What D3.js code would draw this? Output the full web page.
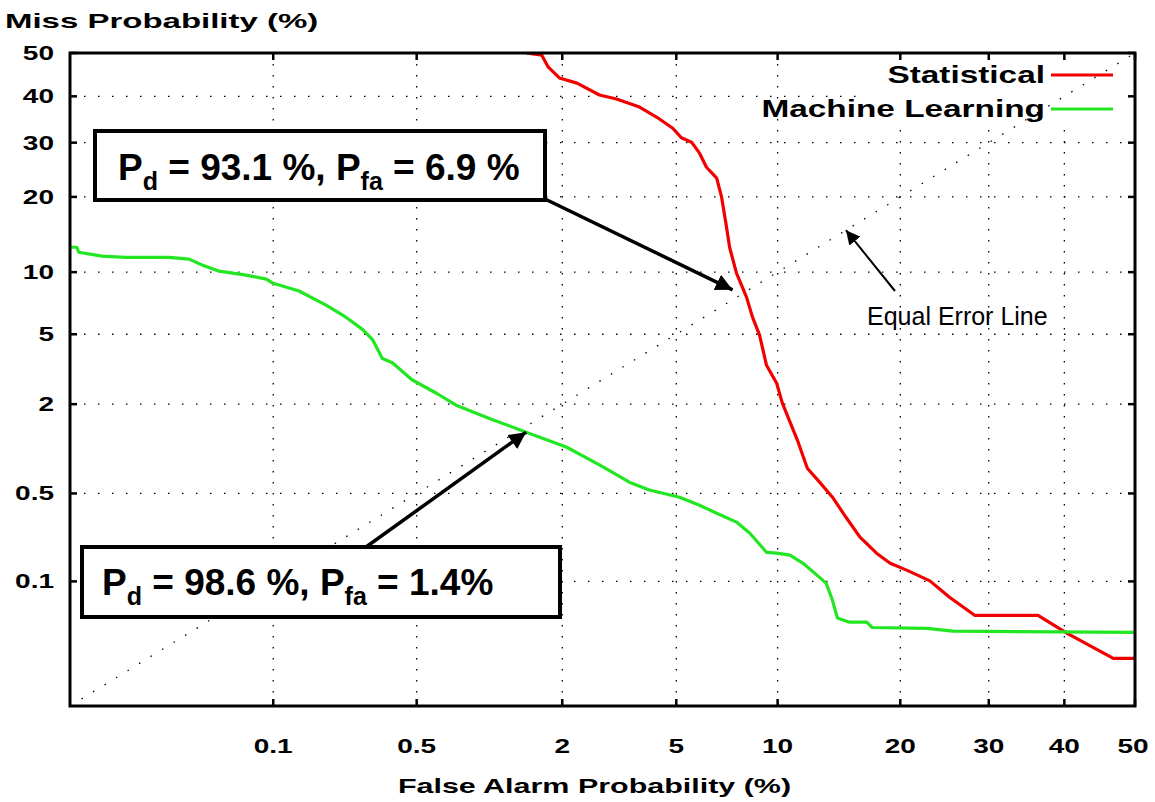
<!DOCTYPE html>
<html>
<head>
<meta charset="utf-8">
<script src="https://cdn.jsdelivr.net/npm/d3@7"></script>
<style>
  body { margin: 0; background: #fff; }
  text { font-family: "Liberation Sans", Arial, Helvetica, sans-serif; }
</style>
</head>
<body>
<svg id="chart" width="1155" height="802"></svg>
<script>
// axis ticks (percent) and limits of the DET plot
const xTicks = [0.1, 0.5, 2, 5, 10, 20, 30, 40, 50];
const yTicks = [0.1, 0.5, 2, 5, 10, 20, 30, 40, 50];
const axisMin = 0.0067;
const axisMax = 50;

// Statistical detector: false alarm % / miss %
const statPfa = [1.45, 1.67, 1.77, 1.95, 2.27, 2.74, 3.15, 3.78, 4.31, 4.87, 5.19, 5.59, 5.92, 6.22, 6.68, 6.91, 7.15, 7.3, 7.65, 8.18, 8.51, 8.91, 9.32, 9.94, 10.3, 11.3, 12.0, 12.9, 13.9, 15.0, 16.2, 17.7, 19.0, 20.7, 23.1, 25.3, 28.3, 36.4, 40.4, 46.9, 50];
const statPmiss = [50, 49.5, 46.7, 44.2, 43.0, 40.3, 39.4, 37.6, 35.4, 33.0, 31.0, 30.1, 27.9, 25.2, 23.2, 20.0, 15.4, 12.8, 9.9, 7.67, 6.12, 4.95, 3.39, 2.67, 2.03, 1.18, 0.758, 0.604, 0.469, 0.331, 0.232, 0.172, 0.142, 0.124, 0.101, 0.0728, 0.0502, 0.0502, 0.0344, 0.02, 0.02];

// Machine learning detector: false alarm % / miss %
const mlPfa = [0.0067, 0.0074, 0.0076, 0.0106, 0.0148, 0.0266, 0.0347, 0.0411, 0.0511, 0.0718, 0.092, 0.1, 0.136, 0.187, 0.234, 0.28, 0.312, 0.348, 0.387, 0.476, 0.612, 0.746, 1.03, 1.45, 2.07, 2.74, 3.49, 4.08, 5.12, 5.92, 6.68, 7.65, 8.35, 9.32, 9.94, 10.8, 11.7, 12.7, 13.4, 13.9, 14.3, 15.3, 16.8, 17.3, 22.8, 25.7, 50];
const mlPmiss = [12.8, 12.8, 12.2, 11.75, 11.6, 11.6, 11.4, 10.75, 10.1, 9.7, 9.3, 8.9, 8.2, 7.0, 6.1, 5.3, 4.7, 3.7, 3.5, 2.8, 2.33, 1.97, 1.63, 1.33, 1.06, 0.8, 0.604, 0.53, 0.469, 0.409, 0.355, 0.304, 0.25, 0.175, 0.172, 0.166, 0.142, 0.113, 0.0967, 0.0685, 0.0475, 0.0436, 0.0436, 0.039, 0.0383, 0.0361, 0.0352];

const seriesNames = ["Statistical", "Machine Learning"];
const seriesColors = ["#f20000", "#22e622"];

// inverse normal CDF (Acklam) -> normal deviate axis
function probit(p) {
  const a = [-39.69683028665376, 220.9460984245205, -275.9285104469687, 138.3577518672690, -30.66479806614716, 2.506628277459239];
  const b = [-54.47609879822406, 161.5858368580409, -155.6989798598866, 66.80131188771972, -13.28068155288572];
  const c = [-0.007784894002430293, -0.3223964580411365, -2.400758277161838, -2.549671010229583, 4.374664141464968, 2.938163982698783];
  const d = [0.007784695709041462, 0.3224671290700398, 2.445134137142996, 3.754408661907416];
  const lo = 0.02425;
  if (p < lo) {
    const q = Math.sqrt(-2 * Math.log(p));
    return (((((c[0] * q + c[1]) * q + c[2]) * q + c[3]) * q + c[4]) * q + c[5]) /
      ((((d[0] * q + d[1]) * q + d[2]) * q + d[3]) * q + 1);
  }
  if (p <= 1 - lo) {
    const q = p - 0.5, r = q * q;
    return (((((a[0] * r + a[1]) * r + a[2]) * r + a[3]) * r + a[4]) * r + a[5]) * q /
      (((((b[0] * r + b[1]) * r + b[2]) * r + b[3]) * r + b[4]) * r + 1);
  }
  return -probit(1 - p);
}

const svg = d3.select("#chart");
const width = +svg.attr("width");
const height = +svg.attr("height");
const margin = { top: 53, right: 20, bottom: 96, left: 70 };
const innerWidth = width - margin.left - margin.right;
const innerHeight = height - margin.top - margin.bottom;

// scales in page coordinates
const xz = d3.scaleLinear()
  .domain([probit(axisMin / 100), probit(axisMax / 100)])
  .range([margin.left, margin.left + innerWidth]);
const yz = d3.scaleLinear()
  .domain([probit(axisMin / 100), probit(axisMax / 100)])
  .range([margin.top + innerHeight, margin.top]);
const xScale = (v) => xz(probit(v / 100));
const yScale = (v) => yz(probit(v / 100));
const x0 = margin.left, x1 = margin.left + innerWidth;
const y0 = margin.top, y1 = margin.top + innerHeight;

const marks = svg.append("g");
const labels = svg.append("g");

// gnuplot style text is wide: stretch it with textLength
const wideText = (x, y, str, anchor, size, sx) => {
  const t = labels.append("text")
    .attr("x", x).attr("y", y)
    .attr("text-anchor", anchor)
    .attr("font-size", size)
    .attr("font-weight", "bold")
    .attr("fill", "#000")
    .text(str);
  const w = t.node().getComputedTextLength();
  t.attr("textLength", w * sx).attr("lengthAdjust", "spacingAndGlyphs");
  return t;
};

const defs = svg.append("defs");
defs.append("clipPath").attr("id", "plotClip")
  .append("rect").attr("x", x0).attr("y", y0)
  .attr("width", innerWidth).attr("height", innerHeight);
// the key area keeps the grid out
defs.append("clipPath").attr("id", "gridClip")
  .append("path")
  .attr("clip-rule", "evenodd")
  .attr("d", `M${x0},${y0}H${x1}V${y1}H${x0}Z M858,61H1128V123H858Z`);

// grid
const grid = marks.append("g").attr("clip-path", "url(#gridClip)");
grid.selectAll(".vgrid").data(xTicks).enter()
  .append("line")
  .attr("x1", (d) => xScale(d)).attr("x2", (d) => xScale(d))
  .attr("y1", y0).attr("y2", y1)
  .attr("stroke", "#000").attr("stroke-width", 1.3)
  .attr("stroke-dasharray", "1.5,9.5");
grid.selectAll(".hgrid").data(yTicks).enter()
  .append("line")
  .attr("y1", (d) => yScale(d)).attr("y2", (d) => yScale(d))
  .attr("x1", x0).attr("x2", x1)
  .attr("stroke", "#000").attr("stroke-width", 1.3)
  .attr("stroke-dasharray", "1.5,12.5");

// equal error line
marks.append("line")
  .attr("x1", xScale(axisMin)).attr("y1", yScale(axisMin))
  .attr("x2", xScale(axisMax)).attr("y2", yScale(axisMax))
  .attr("stroke", "#000").attr("stroke-width", 1.3)
  .attr("stroke-dasharray", "1.5,12");

// curves
const line = d3.line()
  .x((d) => xScale(d[0]))
  .y((d) => yScale(d[1]));

const series = [
  d3.zip(statPfa, statPmiss),
  d3.zip(mlPfa, mlPmiss),
];
marks.append("g").attr("clip-path", "url(#plotClip)")
  .selectAll("path").data(series).enter()
  .append("path")
  .attr("d", line)
  .attr("fill", "none")
  .attr("stroke", (d, i) => seriesColors[i])
  .attr("stroke-width", 3.2)
  .attr("stroke-linejoin", "round");

// frame + mirrored inward ticks
marks.append("rect")
  .attr("x", x0).attr("y", y0)
  .attr("width", innerWidth).attr("height", innerHeight)
  .attr("fill", "none").attr("stroke", "#000").attr("stroke-width", 3);
const tickLen = 7;
xTicks.forEach((t) => {
  marks.append("line").attr("x1", xScale(t)).attr("x2", xScale(t))
    .attr("y1", y1).attr("y2", y1 - tickLen)
    .attr("stroke", "#000").attr("stroke-width", 2.5);
  marks.append("line").attr("x1", xScale(t)).attr("x2", xScale(t))
    .attr("y1", y0).attr("y2", y0 + tickLen)
    .attr("stroke", "#000").attr("stroke-width", 2.5);
  wideText(Math.min(xScale(t), 1133), y1 + 47, String(t), "middle", 20, 1.4);
});
yTicks.forEach((t) => {
  marks.append("line").attr("y1", yScale(t)).attr("y2", yScale(t))
    .attr("x1", x0).attr("x2", x0 + tickLen)
    .attr("stroke", "#000").attr("stroke-width", 2.5);
  marks.append("line").attr("y1", yScale(t)).attr("y2", yScale(t))
    .attr("x1", x1).attr("x2", x1 - tickLen)
    .attr("stroke", "#000").attr("stroke-width", 2.5);
  wideText(x0 - 16, yScale(t) + 7, String(t), "end", 20, 1.4);
});

// axis titles
wideText(5, 28, "Miss Probability (%)", "start", 21, 1.57);
wideText(x0 + innerWidth / 2 - 8, 793, "False Alarm Probability (%)", "middle", 21, 1.45);

// legend
seriesNames.forEach((name, i) => {
  const ly = y0 + 22 + i * 34;
  wideText(x0 + 975, ly + 8, name, "end", 23, 1.45);
  marks.append("line")
    .attr("x1", x0 + 981).attr("x2", x0 + 1043)
    .attr("y1", ly).attr("y2", ly)
    .attr("stroke", seriesColors[i]).attr("stroke-width", 3);
});

// annotations
const addHead = (id, size) => defs.append("marker")
  .attr("id", id)
  .attr("viewBox", "0 0 10 10")
  .attr("refX", 10).attr("refY", 5)
  .attr("markerWidth", size).attr("markerHeight", size)
  .attr("markerUnits", "userSpaceOnUse")
  .attr("orient", "auto")
  .append("path").attr("d", "M0,0L10,5L0,10Z").attr("fill", "#000");
addHead("headBig", 17);
addHead("headSmall", 14);

const boxes = [
  { x: 95, y: 131, w: 450, h: 69, tx: 118, ty: 180, pd: "93.1 %", pfa: "6.9 %", from: [545, 199], to: [7.45, 8.3] },
  { x: 82, y: 547, w: 478, h: 70, tx: 102, ty: 595, pd: "98.6 %", pfa: "1.4%", from: [366, 547], to: [1.45, 1.33] },
];
boxes.forEach((b) => {
  marks.append("line")
    .attr("x1", b.from[0]).attr("y1", b.from[1])
    .attr("x2", xScale(b.to[0])).attr("y2", yScale(b.to[1]))
    .attr("stroke", "#000").attr("stroke-width", 3.5)
    .attr("marker-end", "url(#headBig)");
  marks.append("rect")
    .attr("x", b.x).attr("y", b.y).attr("width", b.w).attr("height", b.h)
    .attr("fill", "#fff").attr("stroke", "#000").attr("stroke-width", 4);
  // one label, subscripts shifted down
  const t = labels.append("text")
    .attr("x", b.tx).attr("y", b.ty)
    .attr("font-size", 37).attr("font-weight", "bold").attr("fill", "#000");
  t.append("tspan").text("P");
  t.append("tspan").attr("font-size", 25).attr("baseline-shift", -10).text("d");
  t.append("tspan").text(` = ${b.pd}, P`);
  t.append("tspan").attr("font-size", 25).attr("baseline-shift", -10).text("fa");
  t.append("tspan").text(` = ${b.pfa}`);
});

marks.append("line")
  .attr("x1", 895).attr("y1", 291)
  .attr("x2", xScale(15)).attr("y2", yScale(15))
  .attr("stroke", "#000").attr("stroke-width", 2)
  .attr("marker-end", "url(#headSmall)");
labels.append("text")
  .attr("x", 867).attr("y", 325)
  .attr("font-size", 25).attr("fill", "#000")
  .text("Equal Error Line");
</script>
</body>
</html>
